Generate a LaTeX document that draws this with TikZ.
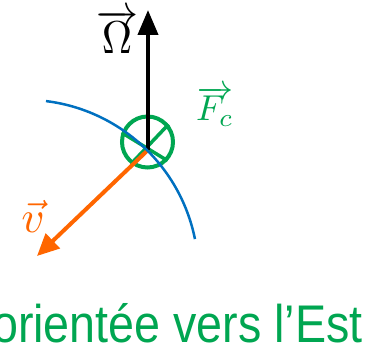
\documentclass[tikz,border=0pt]{standalone}
\usepackage{fontspec}
\newfontfamily\sansest{Liberation Sans}
\usetikzlibrary{arrows.meta}
\definecolor{vertF}{RGB}{0,166,81}
\definecolor{orangeV}{RGB}{255,102,0}
\definecolor{bleuT}{RGB}{0,112,192}
\begin{document}
\begin{tikzpicture}[x=1pt, y=1pt,
    fleche/.style={line width=4pt, -{Triangle[length=25pt, width=20pt]}},
    barre/.style={vertF, line width=3.5pt}]
    % cadre
    \useasboundingbox (0,0) rectangle (370,355);
    \clip (0,0) rectangle (370,355);

    % points
    \coordinate (C) at (147.5,213);
    \coordinate (O) at (148,205);
    \coordinate (Otop) at (148,345);
    \coordinate (vtip) at (37,99);

    % Force de Coriolis (cercle barre)
    \node[draw=vertF, line width=4pt, circle, minimum size=51pt, inner sep=0pt] (Fc) at (C) {};
    \draw[barre] (Fc.40) -- (Fc.233);
    \draw[barre] (Fc.160) -- (Fc.317);

    % vecteurs
    \draw[fleche, black] (O) -- (Otop);
    \draw[fleche, orangeV, -{Triangle[length=22pt, width=20pt]}] (O) -- (vtip);

    % trajectoire
    \draw[bleuT, line width=2.5pt] (24.8,81.6) ++(83:173.6) arc[start angle=83, end angle=11.4, radius=173.6];

    % etiquettes
    \node[inner sep=0pt] (omega) at (117,323.5) {\scalebox{4.2}[4.6]{$\overrightarrow{\Omega}$}};
    \node[inner sep=0pt, text=vertF] (fc) at (215,248.5) {\scalebox{3.6}{$\overrightarrow{F_c}$}};
    \node[inner sep=0pt, text=orangeV] (v) at (33,139) {\scalebox{4.5}{$\vec{v}$}};
    \node[anchor=base east, inner sep=0pt, text=vertF, font=\sansest\fontsize{53}{58}\selectfont] (est) at (363,12) {\scalebox{0.88}[1]{orientée vers l’Est}};
\end{tikzpicture}
\end{document}
